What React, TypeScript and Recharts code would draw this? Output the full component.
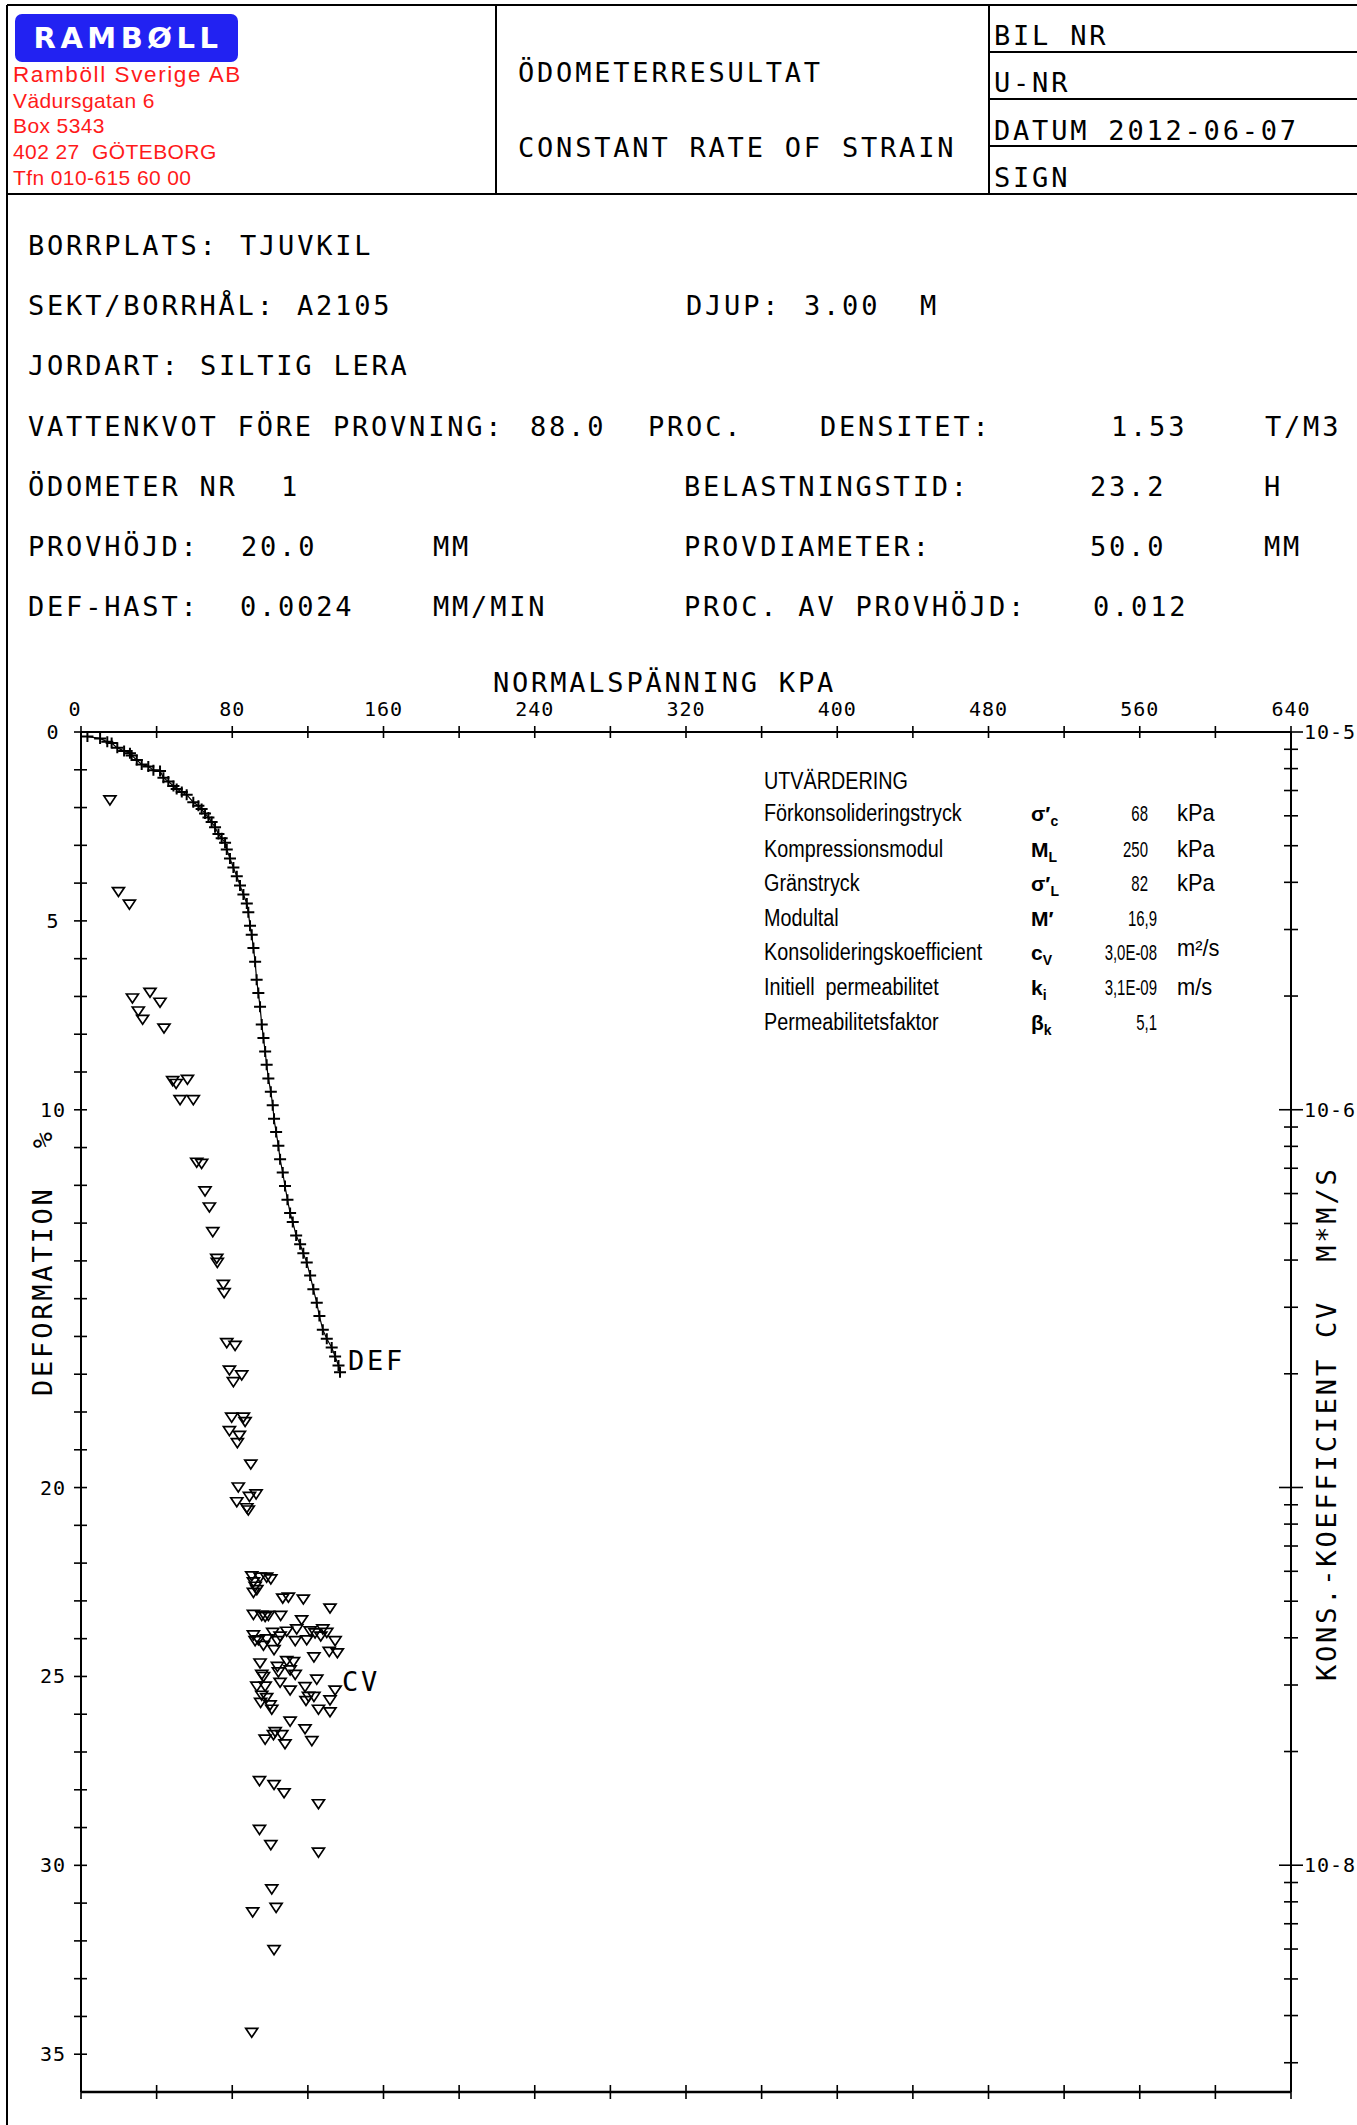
import React from "react";
import { ScatterChart, Scatter, XAxis, YAxis } from "recharts";

const PLOT_FONT = "'DejaVu Sans Mono', monospace";
const ISO_FONT = "'Liberation Sans', Arial, sans-serif";

// ---- chart data -------------------------------------------------------------
// DEF: normal stress (kPa) vs deformation (%)
const defStress = [
  3.4, 10.1, 13.9, 16.2, 19.2, 22.8, 25.9, 26.8, 29.5, 32.1, 35.6, 38.3, 41.8,
  43.6, 46.2, 48.9, 50.6, 53.3, 55.9, 59.4, 62.1, 63.8, 65.6, 67.4, 69.1, 70.9,
  72.7, 74.4, 76.2, 77.1, 78.8, 80.6, 82.4, 84.1, 85.9, 87.7, 88.5, 89.4, 90.3,
  91.2, 92.1, 92.9, 93.8, 94.7, 95.6, 96.5, 97.4, 98.2, 99.1, 100.4, 101.4,
  102.1, 103.2, 104.4, 105.3, 106.7, 107.9, 109.2, 110.6, 112.0, 113.8, 115.9,
  117.6, 119.4, 121.2, 122.9, 124.7, 126.1, 127.9, 130.0, 132.6, 134.4, 136.2,
  137.0,
];
const defStrain = [
  0.12, 0.17, 0.26, 0.29, 0.42, 0.5, 0.56, 0.62, 0.74, 0.86, 0.91, 1.01, 1.03,
  1.21, 1.31, 1.43, 1.51, 1.59, 1.66, 1.86, 1.95, 2.04, 2.16, 2.26, 2.38, 2.52,
  2.7, 2.81, 2.93, 3.11, 3.35, 3.59, 3.82, 4.06, 4.3, 4.54, 4.77, 5.13, 5.37,
  5.72, 6.08, 6.56, 6.91, 7.27, 7.74, 8.1, 8.46, 8.81, 9.17, 9.52, 9.88, 10.24,
  10.59, 10.95, 11.31, 11.66, 12.02, 12.38, 12.73, 12.97, 13.33, 13.56, 13.8,
  14.04, 14.39, 14.75, 15.11, 15.46, 15.82, 16.06, 16.29, 16.53, 16.77, 16.95,
];

// CV: normal stress (kPa) vs consolidation coefficient (m2/s)
const cvStress = [
  15.3, 19.8, 25.6, 27.2, 36.5, 41.8, 30.3, 32.6, 43.9, 48.5, 50.3, 56.3, 52.4,
  59.4, 61.2, 63.8, 65.6, 67.9, 69.7, 71.8, 72.1, 75.3, 75.7, 77.1, 81.5, 78.5,
  80.6, 85.0, 79.7, 85.9, 86.8, 78.5, 83.8, 82.7, 89.8, 83.2, 89.1, 92.6, 82.4,
  87.7, 88.5, 90.3, 94.7, 98.2, 100.4, 91.2, 92.1, 93.0, 91.2, 106.7, 109.7,
  117.6, 131.7, 91.2, 95.6, 99.1, 105.6, 97.4, 116.7, 101.4, 114.1, 121.2,
  127.9, 130.0, 91.2, 108.8, 123.8, 126.8, 93.8, 98.2, 105.3, 113.3, 119.4,
  134.4, 92.1, 96.5, 103.9, 102.1, 131.3, 135.6, 123.2, 94.7, 108.8, 112.4,
  103.9, 104.4, 110.6, 113.3, 95.6, 96.5, 124.7, 105.3, 110.6, 93.0, 97.4,
  118.5, 134.4, 95.6, 98.2, 120.3, 123.2, 131.7, 95.0, 119.0, 100.0, 100.9,
  125.6, 131.7, 110.6, 118.5, 102.7, 101.8, 106.2, 97.4, 122.1, 107.9, 94.4,
  102.1, 107.4, 125.6, 94.4, 100.4, 125.6, 100.9, 103.2, 90.8, 102.1, 90.3,
];
const cvValue = [
  6.59e-6, 3.77e-6, 3.49e-6, 1.97e-6, 2.04e-6, 1.92e-6, 1.82e-6, 1.73e-6,
  1.64e-6, 1.19e-6, 1.17e-6, 1.2e-6, 1.06e-6, 1.06e-6, 7.24e-7, 7.19e-7,
  6.08e-7, 5.51e-7, 4.74e-7, 4.03e-7, 3.93e-7, 3.44e-7, 3.27e-7, 2.41e-7,
  2.37e-7, 2.04e-7, 1.9e-7, 1.98e-7, 1.53e-7, 1.53e-7, 1.49e-7, 1.41e-7,
  1.37e-7, 1.31e-7, 1.15e-7, 1.0e-7, 9.44e-8, 9.59e-8, 9.14e-8, 8.81e-8,
  8.69e-8, 5.82e-8, 5.77e-8, 5.77e-8, 5.71e-8, 5.61e-8, 5.46e-8, 5.35e-8,
  5.26e-8, 5.08e-8, 5.11e-8, 5.05e-8, 4.78e-8, 4.6e-8, 4.57e-8, 4.57e-8,
  4.57e-8, 4.54e-8, 4.45e-8, 4.12e-8, 4.21e-8, 4.16e-8, 4.21e-8, 4.12e-8,
  4.06e-8, 4.15e-8, 4.11e-8, 4.03e-8, 3.94e-8, 3.96e-8, 4.03e-8, 3.92e-8,
  3.94e-8, 3.92e-8, 3.92e-8, 3.81e-8, 3.92e-8, 3.71e-8, 3.67e-8, 3.64e-8,
  3.55e-8, 3.42e-8, 3.47e-8, 3.45e-8, 3.35e-8, 3.24e-8, 3.28e-8, 3.19e-8,
  3.19e-8, 3.15e-8, 3.1e-8, 3.04e-8, 2.9e-8, 2.97e-8, 2.97e-8, 2.96e-8,
  2.9e-8, 2.81e-8, 2.77e-8, 2.79e-8, 2.79e-8, 2.73e-8, 2.69e-8, 2.72e-8,
  2.65e-8, 2.58e-8, 2.58e-8, 2.54e-8, 2.4e-8, 2.29e-8, 2.25e-8, 2.21e-8,
  2.21e-8, 2.15e-8, 2.13e-8, 2.09e-8, 1.67e-8, 1.63e-8, 1.55e-8, 1.45e-8,
  1.24e-8, 1.13e-8, 1.08e-8, 8.63e-9, 7.71e-9, 7.5e-9, 5.96e-9, 3.6e-9,
];

// ---- axes -------------------------------------------------------------------
const stressTicks = [0, 40, 80, 120, 160, 200, 240, 280, 320, 360, 400, 440, 480, 520, 560, 600, 640];
const stressLabels = [0, 80, 160, 240, 320, 400, 480, 560, 640];
const defTicks = [
  0, 1, 2, 3, 4, 5, 6, 7, 8, 9, 10, 11, 12, 13, 14, 15, 16, 17, 18, 19, 20, 21,
  22, 23, 24, 25, 26, 27, 28, 29, 30, 31, 32, 33, 34, 35,
];
// 15 is left out in the original (the axis title sits there)
const defLabels = [0, 5, 10, 20, 25, 30, 35];
const cvTicks = [
  1e-5, 9e-6, 8e-6, 7e-6, 6e-6, 5e-6, 4e-6, 3e-6, 2e-6,
  1e-6, 9e-7, 8e-7, 7e-7, 6e-7, 5e-7, 4e-7, 3e-7, 2e-7,
  1e-7, 9e-8, 8e-8, 7e-8, 6e-8, 5e-8, 4e-8, 3e-8, 2e-8,
  1e-8, 9e-9, 8e-9, 7e-9, 6e-9, 5e-9, 4e-9, 3e-9,
];
const cvMajorTicks = [1e-5, 1e-6, 1e-7, 1e-8];
const cvMajorLabels = ["10-5", "10-6", "", "10-8"];

// ---- evaluation table ---------------------------------------------------------
const evalLabels = [
  "Förkonsolideringstryck",
  "Kompressionsmodul",
  "Gränstryck",
  "Modultal",
  "Konsolideringskoefficient",
  "Initiell  permeabilitet",
  "Permeabilitetsfaktor",
];
const evalSymbols = [["σ′", "c"], ["M", "L"], ["σ′", "L"], ["M′", ""], ["c", "V"], ["k", "i"], ["β", "k"]];
const evalValues = ["68", "250", "82", "16,9", "3,0E-08", "3,1E-09", "5,1"];
const evalUnits = ["kPa", "kPa", "kPa", "", "m²/s", "m/s", ""];

const companyLines = ["Ramböll Sverige AB", "Vädursgatan 6", "Box 5343", "402 27  GÖTEBORG", "Tfn 010-615 60 00"];
const headerCells = ["BIL NR", "U-NR", "DATUM 2012-06-07", "SIGN"];

const defData = defStress.map((s, i) => ({ s, d: defStrain[i] }));
const cvData = cvStress.map((s, i) => ({ s, cv: cvValue[i] }));

const tickText = {
  fontFamily: PLOT_FONT,
  fontSize: 20,
  letterSpacing: 1,
  fill: "#000",
};

const TopTick = (props: any) => {
  const { x, y, payload } = props;
  return (
    <g>
      <line x1={x} x2={x} y1={y - 6} y2={y + 6} stroke="#000" strokeWidth={1.6} />
      {stressLabels.includes(payload.value) && (
        <text x={payload.value === 0 ? x - 6 : x} y={y - 16} textAnchor="middle" {...tickText}>
          {payload.value}
        </text>
      )}
    </g>
  );
};

const BottomTick = (props: any) => {
  const { x, y } = props;
  return <line x1={x} x2={x} y1={y - 7} y2={y + 7} stroke="#000" strokeWidth={1.6} />;
};

const DefTick = (props: any) => {
  const { x, y, payload } = props;
  return (
    <g>
      <line x1={x - 7} x2={x + 6} y1={y} y2={y} stroke="#000" strokeWidth={1.6} />
      {defLabels.includes(payload.value) && (
        <text x={x - 28} y={y + 7} textAnchor="middle" {...tickText}>
          {payload.value}
        </text>
      )}
    </g>
  );
};

const CvTick = (props: any) => {
  const { x, y, payload } = props;
  const idx = cvMajorTicks.findIndex((m) => Math.abs(payload.value / m - 1) < 1e-6);
  const len = idx >= 0 ? 12 : 7;
  return (
    <g>
      <line x1={x - len} x2={x + len} y1={y} y2={y} stroke="#000" strokeWidth={1.6} />
      {idx >= 0 && cvMajorLabels[idx] && (
        <text x={x + 13} y={y + 7} {...tickText}>
          {cvMajorLabels[idx]}
        </text>
      )}
    </g>
  );
};

const PlusMark = (props: any) => {
  const { cx, cy } = props;
  return <path d={`M${cx - 6},${cy}h12M${cx},${cy - 5.5}v11`} stroke="#000" strokeWidth={2} fill="none" />;
};

const TriangleMark = (props: any) => {
  const { cx, cy } = props;
  return <path d={`M${cx - 6},${cy - 4.5}h12l-6,9z`} stroke="#000" strokeWidth={1.7} fill="none" />;
};

const T = ({ x, y, children }: { x: number; y: number; children: React.ReactNode }) => (
  <text x={x} y={y} fontFamily={PLOT_FONT} fontSize={27} letterSpacing={2.8} fill="#000" style={{ whiteSpace: "pre" }}>
    {children}
  </text>
);

const rowY = [255, 315, 375, 436, 496, 556, 616];
const evalY = [821, 857, 891, 926, 960, 995, 1030];

function PageOverlay() {
  return (
    <svg width={1357} height={2125} style={{ position: "absolute", left: 0, top: 0, pointerEvents: "none" }}>
      {/* frame */}
      <g stroke="#000" strokeWidth={2}>
        <line x1={7} x2={1357} y1={5} y2={5} />
        <line x1={7} x2={7} y1={5} y2={2125} />
        <line x1={7} x2={1357} y1={194} y2={194} />
        <line x1={496} x2={496} y1={5} y2={194} />
        <line x1={989} x2={989} y1={5} y2={194} />
        <line x1={989} x2={1357} y1={52} y2={52} />
        <line x1={989} x2={1357} y1={99} y2={99} />
        <line x1={989} x2={1357} y1={146} y2={146} />
      </g>

      {/* logo */}
      <rect x={15} y={14} width={223} height={48} rx={7} fill="#2222f2" />
      <text x={128} y={48} textAnchor="middle" fontFamily="'DejaVu Sans', sans-serif" fontWeight="bold" fontSize={29} letterSpacing={4.5} fill="#fff">
        RAMBØLL
      </text>
      {companyLines.map((t, i) => (
        <text
          key={t}
          x={13}
          y={82 + i * 25.7}
          fontFamily={ISO_FONT}
          fontSize={i === 0 ? 22.5 : 21}
          letterSpacing={i === 0 ? 1.6 : 0.4}
          fill="#ff1a1a"
          style={{ whiteSpace: "pre" }}
        >
          {t}
        </text>
      ))}

      <T x={518} y={82}>ÖDOMETERRESULTAT</T>
      <T x={518} y={157}>CONSTANT RATE OF STRAIN</T>
      {headerCells.map((t, i) => (
        <T key={t} x={994} y={45 + i * 47.3}>
          {t}
        </T>
      ))}

      {/* sample info */}
      <T x={28} y={rowY[0]}>BORRPLATS:</T>
      <T x={240} y={rowY[0]}>TJUVKIL</T>
      <T x={28} y={rowY[1]}>SEKT/BORRHÅL:</T>
      <T x={297} y={rowY[1]}>A2105</T>
      <T x={686} y={rowY[1]}>DJUP:</T>
      <T x={804} y={rowY[1]}>3.00</T>
      <T x={920} y={rowY[1]}>M</T>
      <T x={28} y={rowY[2]}>JORDART:</T>
      <T x={200} y={rowY[2]}>SILTIG LERA</T>
      <T x={28} y={rowY[3]}>VATTENKVOT FÖRE PROVNING:</T>
      <T x={530} y={rowY[3]}>88.0</T>
      <T x={648} y={rowY[3]}>PROC.</T>
      <T x={820} y={rowY[3]}>DENSITET:</T>
      <T x={1111} y={rowY[3]}>1.53</T>
      <T x={1265} y={rowY[3]}>T/M3</T>
      <T x={28} y={rowY[4]}>ÖDOMETER NR</T>
      <T x={281} y={rowY[4]}>1</T>
      <T x={684} y={rowY[4]}>BELASTNINGSTID:</T>
      <T x={1090} y={rowY[4]}>23.2</T>
      <T x={1264} y={rowY[4]}>H</T>
      <T x={28} y={rowY[5]}>PROVHÖJD:</T>
      <T x={241} y={rowY[5]}>20.0</T>
      <T x={433} y={rowY[5]}>MM</T>
      <T x={684} y={rowY[5]}>PROVDIAMETER:</T>
      <T x={1090} y={rowY[5]}>50.0</T>
      <T x={1264} y={rowY[5]}>MM</T>
      <T x={28} y={rowY[6]}>DEF-HAST:</T>
      <T x={240} y={rowY[6]}>0.0024</T>
      <T x={433} y={rowY[6]}>MM/MIN</T>
      <T x={684} y={rowY[6]}>PROC. AV PROVHÖJD:</T>
      <T x={1093} y={rowY[6]}>0.012</T>

      {/* axis titles and series labels */}
      <T x={493} y={692}>NORMALSPÄNNING KPA</T>
      <g transform="translate(52,1396) rotate(-90)">
        <T x={0} y={0}>DEFORMATION  %</T>
      </g>
      <g transform="translate(1336,1681) rotate(-90)">
        <T x={0} y={0}>KONS.-KOEFFICIENT CV  M*M/S</T>
      </g>
      <T x={348} y={1370}>DEF</T>
      <T x={342} y={1691}>CV</T>

      {/* evaluation */}
      <text transform="translate(764,789) scale(0.86,1)" fontFamily={ISO_FONT} fontSize={23} fill="#000">
        UTVÄRDERING
      </text>
      {evalLabels.map((t, i) => (
        <g key={t}>
          <text transform={`translate(764,${evalY[i]}) scale(0.86,1)`} fontFamily={ISO_FONT} fontSize={23} fill="#000" style={{ whiteSpace: "pre" }}>
            {t}
          </text>
          <text x={1031} y={evalY[i]} fontFamily={ISO_FONT} fontWeight="bold" fontSize={21} fill="#000">
            {evalSymbols[i][0]}
            <tspan dy={5} fontSize={14}>
              {evalSymbols[i][1]}
            </tspan>
          </text>
          <text
            transform={`translate(${evalValues[i].includes(",") ? 1157 : 1148},${evalY[i]}) scale(0.68,1)`}
            textAnchor="end"
            fontFamily={ISO_FONT}
            fontSize={22}
            fill="#000"
          >
            {evalValues[i]}
          </text>
          <text transform={`translate(1177,${evalY[i] - (i === 4 ? 4 : 0)}) scale(0.95,1)`} fontFamily={ISO_FONT} fontSize={23} fill="#000">
            {evalUnits[i]}
          </text>
        </g>
      ))}
    </svg>
  );
}

export default function App() {
  return (
    <div style={{ position: "absolute", left: 0, top: 0, width: 1357, height: 2125, background: "#fff" }}>
      <div style={{ position: "absolute", left: 0, top: 0 }}>
        <ScatterChart width={1357} height={2125} margin={{ top: 731, right: 65, bottom: 32, left: 80 }}>
          <XAxis
            xAxisId="top"
            orientation="top"
            type="number"
            dataKey="s"
            domain={[0, 640]}
            ticks={stressTicks}
            interval={0}
            height={1}
            tickSize={0}
            tickMargin={0}
            tickLine={false}
            tick={<TopTick />}
            axisLine={{ stroke: "#000", strokeWidth: 2 }}
            allowDataOverflow
          />
          <XAxis
            xAxisId="bottom"
            orientation="bottom"
            type="number"
            dataKey="s"
            domain={[0, 640]}
            ticks={stressTicks}
            interval={0}
            height={1}
            tickSize={0}
            tickMargin={0}
            tickLine={false}
            tick={<BottomTick />}
            axisLine={{ stroke: "#000", strokeWidth: 2.5 }}
            allowDataOverflow
          />
          <YAxis
            yAxisId="def"
            orientation="left"
            type="number"
            dataKey="d"
            domain={[0, 36]}
            reversed
            ticks={defTicks}
            interval={0}
            width={1}
            tickSize={0}
            tickMargin={0}
            tickLine={false}
            tick={<DefTick />}
            axisLine={{ stroke: "#000", strokeWidth: 2 }}
            allowDataOverflow
          />
          <YAxis
            yAxisId="cv"
            orientation="right"
            type="number"
            scale="log"
            dataKey="cv"
            domain={[2.51e-9, 1e-5]}
            ticks={cvTicks}
            interval={0}
            width={1}
            tickSize={0}
            tickMargin={0}
            tickLine={false}
            tick={<CvTick />}
            axisLine={{ stroke: "#000", strokeWidth: 2 }}
            allowDataOverflow
          />
          <Scatter
            name="DEF"
            data={defData}
            xAxisId="top"
            yAxisId="def"
            line={{ stroke: "#000", strokeWidth: 1.2 }}
            lineType="joint"
            shape={PlusMark}
            isAnimationActive={false}
          />
          <Scatter
            name="CV"
            data={cvData}
            xAxisId="top"
            yAxisId="cv"
            shape={TriangleMark}
            isAnimationActive={false}
          />
        </ScatterChart>
      </div>
      <PageOverlay />
    </div>
  );
}
